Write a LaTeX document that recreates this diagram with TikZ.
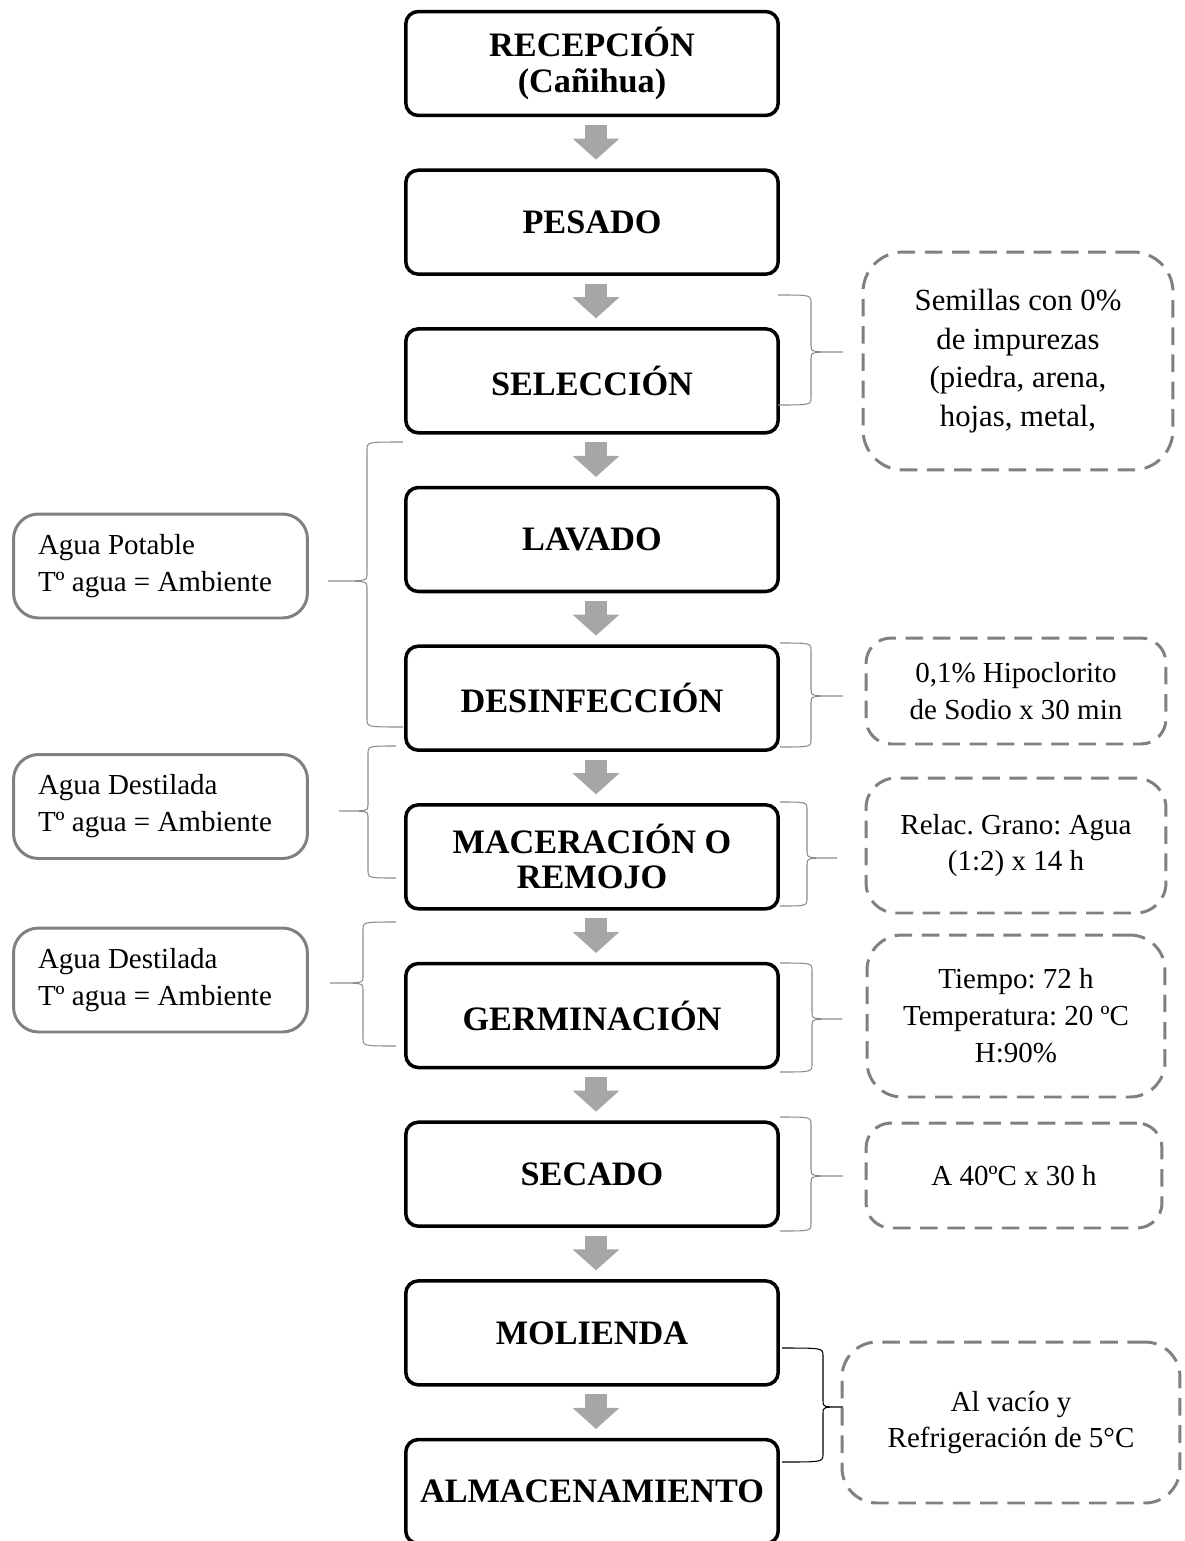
\documentclass[tikz,border=0pt]{standalone}
\usepackage{fontspec}
\setmainfont{Liberation Serif}
\usepackage{tikz}
\usetikzlibrary{shapes,arrows.meta,positioning,calc}
\frenchspacing

% llave: [color]{brazo x}{lomo x}{punta x}{arriba y}{punta y}{abajo y}
\newcommand{\llave}[7][black!45]{%
  \draw[#1,line width=0.6pt] (#2,#5) .. controls (#3,#5) and (#3,#5) .. (#3,#5+8)
    -- (#3,#6-6) .. controls (#3,#6) and (#3,#6) .. (#4,#6)
    .. controls (#3,#6) and (#3,#6) .. (#3,#6+6)
    -- (#3,#7-8) .. controls (#3,#7) and (#3,#7) .. (#2,#7);}

\begin{document}
\begin{tikzpicture}[x=0.02cm,y=-0.02cm,
    proceso/.style={draw,line width=2pt,rounded corners=0.25cm,minimum width=7.45cm,
      minimum height=2.08cm,align=center,inner sep=2pt,
      font=\fontsize{19.5pt}{20pt}\selectfont\bfseries},
    flecha/.style={line width=12.5pt,black!35,-{Triangle[width=26pt,length=12pt]},
      shorten <=4.4pt,shorten >=5pt},
    nota/.style={draw=black!50,line width=1.7pt,dash pattern=on 10pt off 5.5pt,
      rounded corners=0.6cm,align=center,font=\fontsize{16.5pt}{21pt}\selectfont},
    agua/.style={draw=black!50,line width=1.7pt,rounded corners=0.5cm,align=flush left,
      inner xsep=0pt,text width=4.9cm,minimum width=5.88cm,minimum height=2.08cm,
      font=\fontsize{16.5pt}{21pt}\selectfont}]

    \useasboundingbox (0,0) rectangle (1184,1541);

    % etapas del proceso
    \foreach \n/\t [count=\i from 0] in {rec/{RECEPCIÓN\\(Cañihua)},pes/PESADO,
        sel/SELECCIÓN,lav/LAVADO,des/DESINFECCIÓN,mac/{MACERACIÓN O\\REMOJO},
        ger/GERMINACIÓN,sec/SECADO,mol/MOLIENDA,alm/ALMACENAMIENTO}
      \node[proceso] (\n) at (592,63.5+158.67*\i) {\t};

    % flechas grises
    \foreach \a/\b in {rec/pes,pes/sel,sel/lav,lav/des,des/mac,mac/ger,ger/sec,sec/mol,mol/alm}
      \draw[flecha] ([xshift=0.08cm]\a.south) -- ([xshift=0.08cm]\b.north);

    % agua (izquierda)
    \node[agua] (pot) at (160.5,566) {Agua Potable\\Tº agua = Ambiente};
    \node[agua] (dst1) at (160.5,806.5) {Agua Destilada\\Tº agua = Ambiente};
    \node[agua] (dst2) at (160.5,980) {Agua Destilada\\Tº agua = Ambiente};

    % condiciones (derecha)
    \node[nota,minimum width=6.2cm,minimum height=4.36cm,rounded corners=0.8cm,
      font=\fontsize{17.5pt}{22pt}\selectfont] (imp) at (1018,361)
      {Semillas con 0\%\\de impurezas\\(piedra, arena,\\hojas, metal,};
    \node[nota,minimum width=6cm,minimum height=2.12cm,rounded corners=0.5cm] (hip)
      at (1016,691) {0,1\% Hipoclorito\\de Sodio x 30 min};
    \node[nota,minimum width=6cm,minimum height=2.7cm] (rel) at (1016,845.5)
      {Relac. Grano: Agua\\(1:2) x 14 h};
    \node[nota,minimum width=5.96cm,minimum height=3.24cm,rounded corners=0.7cm] (tie)
      at (1016,1016) {Tiempo: 72 h\\Temperatura: 20 ºC\\H:90\%};
    \node[nota,minimum width=5.92cm,minimum height=2.1cm,rounded corners=0.5cm] (sca)
      at (1014,1175.5) {A 40ºC x 30 h};
    \node[nota,minimum width=6.76cm,minimum height=3.22cm,rounded corners=0.7cm] (vac)
      at (1011,1422.5) {Al vacío y\\Refrigeración de 5°C};

    % llaves
    \llave{778}{811}{843}{295}{352}{405}
    \llave{403}{367}{328}{442}{581}{727}
    \llave{780}{811}{843}{643}{696}{747}
    \llave{396}{368}{339}{746}{811}{878}
    \llave{780}{807}{837}{802}{858}{906}
    \llave{396}{363}{330}{922}{983}{1046}
    \llave{780}{812}{842}{963}{1019}{1072}
    \llave{780}{811}{843}{1117}{1176}{1231}
    \llave[black]{782}{823}{843}{1348}{1407}{1462}
\end{tikzpicture}
\end{document}
